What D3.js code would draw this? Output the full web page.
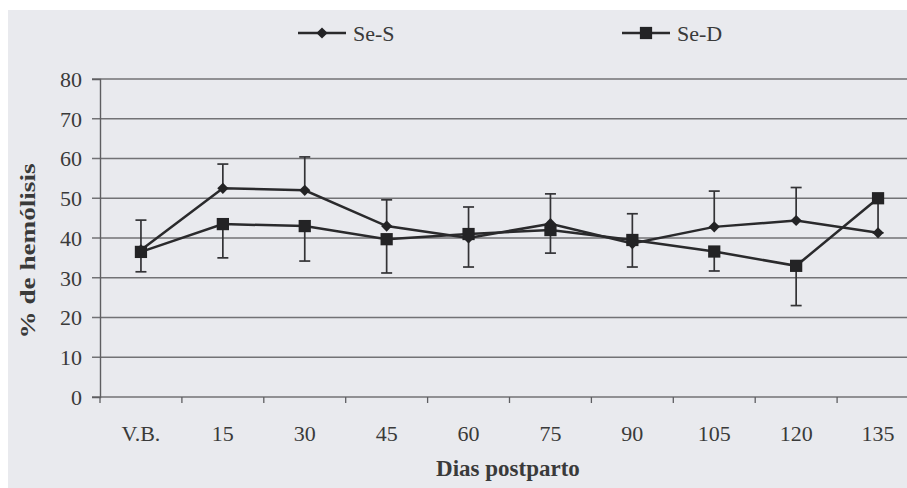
<!DOCTYPE html>
<html>
<head>
<meta charset="utf-8">
<script src="https://cdn.jsdelivr.net/npm/d3@7"></script>
<style>
  body { margin: 0; background: #fff; }
  svg { display: block; }
  text { font-family: "Liberation Serif", "Times New Roman", serif; fill: #3a3a3a; }
</style>
</head>
<body>
<script>
// datos
var categorias = ["V.B.", "15", "30", "45", "60", "75", "90", "105", "120", "135"];
var seS = [37, 52.5, 52, 43, 40, 43.6, 38.6, 42.8, 44.4, 41.3];
var seD = [36.5, 43.5, 43, 39.7, 41, 42, 39.5, 36.6, 33, 50];
// barras de error: Se-S solo hacia arriba, Se-D solo hacia abajo
var errSmas = [7.5, 6.1, 8.4, 6.6, 7.8, 7.5, 7.5, 9, 8.3, 0];
var errDmenos = [5, 8.5, 8.8, 8.5, 8.3, 5.8, 6.8, 4.9, 10, 8.7];
var ticksY = [0, 10, 20, 30, 40, 50, 60, 70, 80];

var W = 907, H = 488;
var margin = {left: 100, top: 79, right: -12, bottom: 91};

var svg = d3.select("body").append("svg").attr("width", W).attr("height", H);

// fondo gris del escaneo
svg.append("rect").attr("x", 8).attr("y", 10).attr("width", W - 8).attr("height", H - 10).attr("fill", "#e9eaee");

var x = d3.scaleBand().domain(categorias).range([margin.left, W - margin.right]);
var y = d3.scaleLinear().domain([0, 80]).range([H - margin.bottom, margin.top]);

// lineas de cuadricula
svg.append("g").selectAll("line").data(ticksY).join("line")
  .attr("x1", margin.left - 8).attr("x2", W)
  .attr("y1", d => y(d)).attr("y2", d => y(d))
  .attr("stroke", "#727275").attr("stroke-width", 1.4);

// eje y
var ejeY = svg.append("g").attr("transform", "translate(" + margin.left + ",0)")
  .call(d3.axisLeft(y).tickValues(ticksY).tickSize(8).tickPadding(10));
ejeY.select(".domain").attr("stroke", "#5e5e61").attr("stroke-width", 1.4);
ejeY.selectAll(".tick line").remove();
ejeY.selectAll("text").style("font-size", "22px").style("font-family", "Liberation Serif").attr("fill", "#3c3c3c").attr("dy", "0.34em");

// eje x
var ejeX = svg.append("g").attr("transform", "translate(0," + y(0) + ")")
  .call(d3.axisBottom(x).tickSize(0).tickPadding(28));
ejeX.select(".domain").remove();
ejeX.selectAll("text").style("font-size", "22px").style("font-family", "Liberation Serif").attr("fill", "#3c3c3c");
svg.append("g").selectAll("line").data(categorias).join("line")
  .attr("x1", d => x(d)).attr("x2", d => x(d))
  .attr("y1", y(0)).attr("y2", y(0) + 6)
  .attr("stroke", "#5e5e61").attr("stroke-width", 1.3);

// titulos de ejes
svg.append("text").attr("x", 508).attr("y", 476).attr("text-anchor", "middle")
  .style("font-size", "23px").style("font-weight", "bold").attr("fill", "#333")
  .text("Dias postparto");
svg.append("text").attr("transform", "translate(35,251) rotate(-90)").attr("text-anchor", "middle")
  .style("font-size", "22px").style("font-weight", "bold").attr("fill", "#333")
  .attr("textLength", 175).attr("lengthAdjust", "spacingAndGlyphs")
  .text("% de hemólisis");

var cx = d => x(d) + x.bandwidth() / 2;
var colorLinea = "#2a2a2c";

// barras de error
function barras(valores, errores, signo) {
  var g = svg.append("g").attr("stroke", "#333336").attr("stroke-width", 1.7);
  categorias.forEach(function(c, i) {
    if (errores[i] <= 0) return;
    var y0 = y(valores[i]), y1 = y(valores[i] + signo * errores[i]);
    g.append("line").attr("x1", cx(c)).attr("x2", cx(c)).attr("y1", y0).attr("y2", y1);
    g.append("line").attr("x1", cx(c) - 5.5).attr("x2", cx(c) + 5.5).attr("y1", y1).attr("y2", y1);
  });
}
barras(seS, errSmas, 1);
barras(seD, errDmenos, -1);

var linea = d3.line().x((d, i) => cx(categorias[i])).y(d => y(d));
svg.append("path").datum(seD).attr("d", linea).attr("fill", "none").attr("stroke", colorLinea).attr("stroke-width", 2.5);
svg.append("path").datum(seS).attr("d", linea).attr("fill", "none").attr("stroke", colorLinea).attr("stroke-width", 2.5);

var simboloCuadro = d3.symbol().type(d3.symbolSquare).size(150);
var simboloRombo = d3.symbol().type(d3.symbolDiamond2).size(80);

svg.append("g").selectAll("path").data(seD).join("path")
  .attr("transform", (d, i) => "translate(" + cx(categorias[i]) + "," + y(d) + ")")
  .attr("d", simboloCuadro).attr("fill", "#232325");
svg.append("g").selectAll("path").data(seS).join("path")
  .attr("transform", (d, i) => "translate(" + cx(categorias[i]) + "," + y(d) + ")")
  .attr("d", simboloRombo).attr("fill", "#232325");

// leyenda
var leyenda = [
  {nombre: "Se-S", x: 298, simbolo: simboloRombo},
  {nombre: "Se-D", x: 622, simbolo: simboloCuadro}
];
leyenda.forEach(function(l) {
  var g = svg.append("g").attr("transform", "translate(" + l.x + ",33)");
  g.append("line").attr("x1", 0).attr("x2", 48).attr("y1", 0).attr("y2", 0).attr("stroke", colorLinea).attr("stroke-width", 2.5);
  g.append("path").attr("transform", "translate(24,0)").attr("d", l.simbolo).attr("fill", "#232325");
  g.append("text").attr("x", 55).attr("y", 8).style("font-size", "22px").attr("fill", "#4a4a4a").text(l.nombre);
});
</script>
</body>
</html>
